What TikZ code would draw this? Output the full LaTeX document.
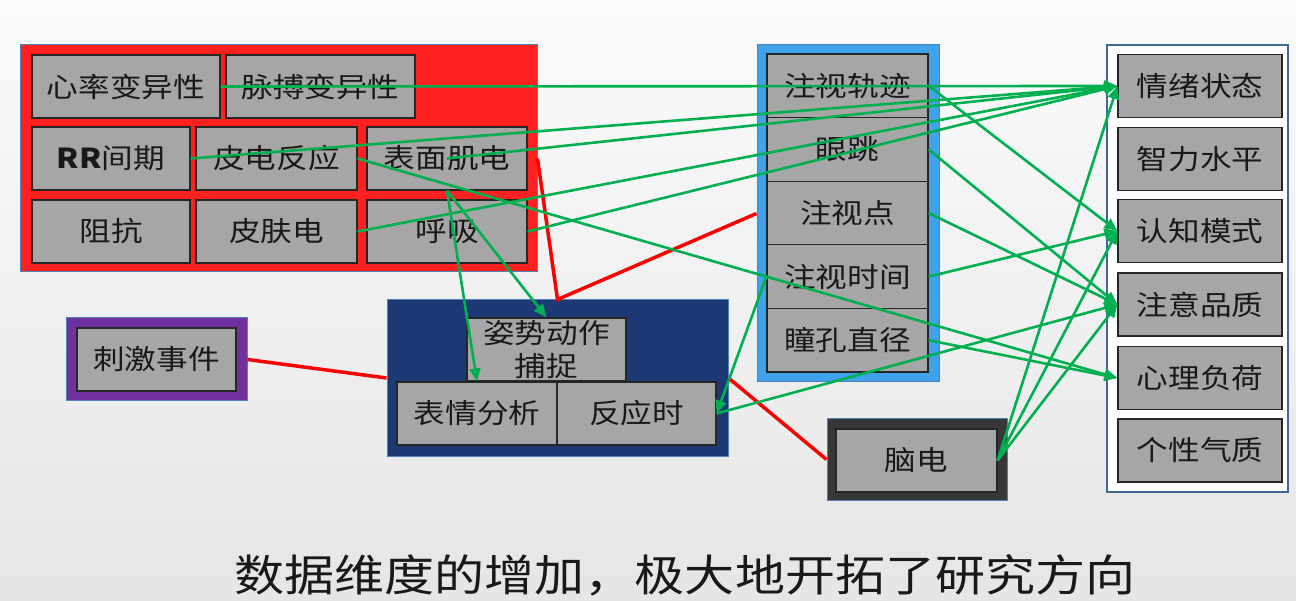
\documentclass[tikz,border=0pt]{standalone}
\usepackage{fontspec}
\newfontfamily\cjk{Noto Sans CJK SC}[FakeStretch=1.15]
\usetikzlibrary{arrows.meta,positioning}
\definecolor{linkgreen}{RGB}{0,176,80}
\definecolor{itemgray}{RGB}{166,166,166}
\definecolor{physred}{RGB}{255,32,32}
\definecolor{eyeblue}{RGB}{64,162,235}
\definecolor{behavnavy}{RGB}{28,56,117}
\definecolor{stimpurple}{RGB}{112,48,160}
\definecolor{eegdark}{RGB}{55,55,55}
\definecolor{edgeblue}{RGB}{79,129,189}

\begin{document}
\begin{tikzpicture}[x=1pt,y=-1pt,
    item/.style={draw=black!85,fill=itemgray,line width=1.2pt,inner sep=0pt,
        minimum width=160pt,minimum height=63pt,text=black!90,
        font=\cjk\fontsize{27.5}{33}\selectfont},
    groupbox/.style={draw=edgeblue,line width=1pt,inner sep=0pt},
    wire/.style={draw=red,line width=3.5pt},
    link/.style={draw=linkgreen,line width=2.6pt,-{Triangle[length=13pt,width=11pt]}}]
    \useasboundingbox (0,0) rectangle (1296,601);
    \shade[top color=gray!3,bottom color=gray!20] (0,0) rectangle (1296,601);

    % groups
    \node[groupbox,fill=physred,minimum width=517pt,minimum height=227pt] (physio) at (278.5,158.5) {};
    \node[groupbox,fill=eyeblue,minimum width=182pt,minimum height=337pt] (eye) at (848,213.5) {};
    \node[groupbox,draw=edgeblue!80!black,line width=1.5pt,fill=white,minimum width=181pt,minimum height=447pt] (psych) at (1197.5,268.5) {};
    \node[groupbox,fill=behavnavy,minimum width=341pt,minimum height=156pt] (behav) at (557.5,378) {};
    \node[groupbox,fill=stimpurple,minimum width=181pt,minimum height=83pt] (stimframe) at (156.5,359.5) {};
    \node[groupbox,fill=eegdark,minimum width=180pt,minimum height=81pt] (eegframe) at (917,459.5) {};

    % physiological
    \node[item,minimum width=188pt] (hrv) at (126,86.5) {心率变异性};
    \node[item,minimum width=189pt] (prv) at (320.5,86.5) {脉搏变异性};
    \node[item,minimum width=158pt] (rri) at (111,158.5) {{\bfseries RR}间期};
    \node[item,minimum width=161pt] (gsr) at (276.5,158.5) {皮电反应};
    \node[item] (emg) at (447,158.5) {表面肌电};
    \node[item,minimum width=158pt] (imp) at (111,231.5) {阻抗};
    \node[item,minimum width=161pt] (skin) at (276.5,231.5) {皮肤电};
    \node[item] (resp) at (447,231.5) {呼吸};

    % eye movement
    \node[item,minimum width=161pt,minimum height=63.6pt] (trace) at (847.5,85.8) {注视轨迹};
    \node[item,minimum width=161pt,minimum height=63.6pt] (sacc) at (847.5,149.4) {眼跳};
    \node[item,minimum width=161pt,minimum height=63.6pt] (fixp) at (847.5,213) {注视点};
    \node[item,minimum width=161pt,minimum height=63.6pt] (fixt) at (847.5,276.6) {注视时间};
    \node[item,minimum width=161pt,minimum height=63.6pt] (pupil) at (847.5,340.2) {瞳孔直径};

    % psychological
    \node[item,minimum width=164pt] (emo) at (1200,86) {情绪状态};
    \node[item,minimum width=164pt] (iq) at (1200,159) {智力水平};
    \node[item,minimum width=164pt] (cog) at (1200,231) {认知模式};
    \node[item,minimum width=164pt] (att) at (1200,304.5) {注意品质};
    \node[item,minimum width=164pt] (load) at (1200,378) {心理负荷};
    \node[item,minimum width=164pt] (pers) at (1200,450.5) {个性气质};

    % behaviour, stimulus, eeg
    \node[item,minimum width=159pt,align=center] (pose) at (546.5,349.5) {姿势动作\\捕捉};
    \node[item] (expr) at (477,413.5) {表情分析};
    \node[item,minimum width=159pt] (rt) at (636.5,413.5) {反应时};
    \node[item,minimum width=159pt] (stim) at (156.5,359.5) {刺激事件};
    \node[item,minimum width=161pt] (eeg) at (916.5,460.5) {脑电};

    \draw[wire] (stimframe.east) -- (behav.west);
    \draw[wire] (physio.east) -- (behav.north) -- (eye.west);
    \draw[wire] (behav.east) -- (eegframe.west);

    \foreach \a/\b in {hrv.east/emo.west, rri.east/emo.west, emg.center/emo.west,
        skin.east/emo.west, resp.east/emo.west, trace.east/cog.west, sacc.east/att.west,
        fixp.east/att.west, fixt.east/cog.west, pupil.east/load.west, gsr.east/load.west,
        fixt.west/rt.east, rt.east/att.west, emg.south/expr.north, emg.south/pose.north,
        eeg.east/emo.west, eeg.east/cog.west, eeg.east/att.west}
        \draw[link] (\a) -- (\b);

    \node[font=\cjk\fontsize{43.5}{48}\selectfont,text=black!90] (caption) at (685,575) {数据维度的增加，极大地开拓了研究方向};
\end{tikzpicture}
\end{document}
